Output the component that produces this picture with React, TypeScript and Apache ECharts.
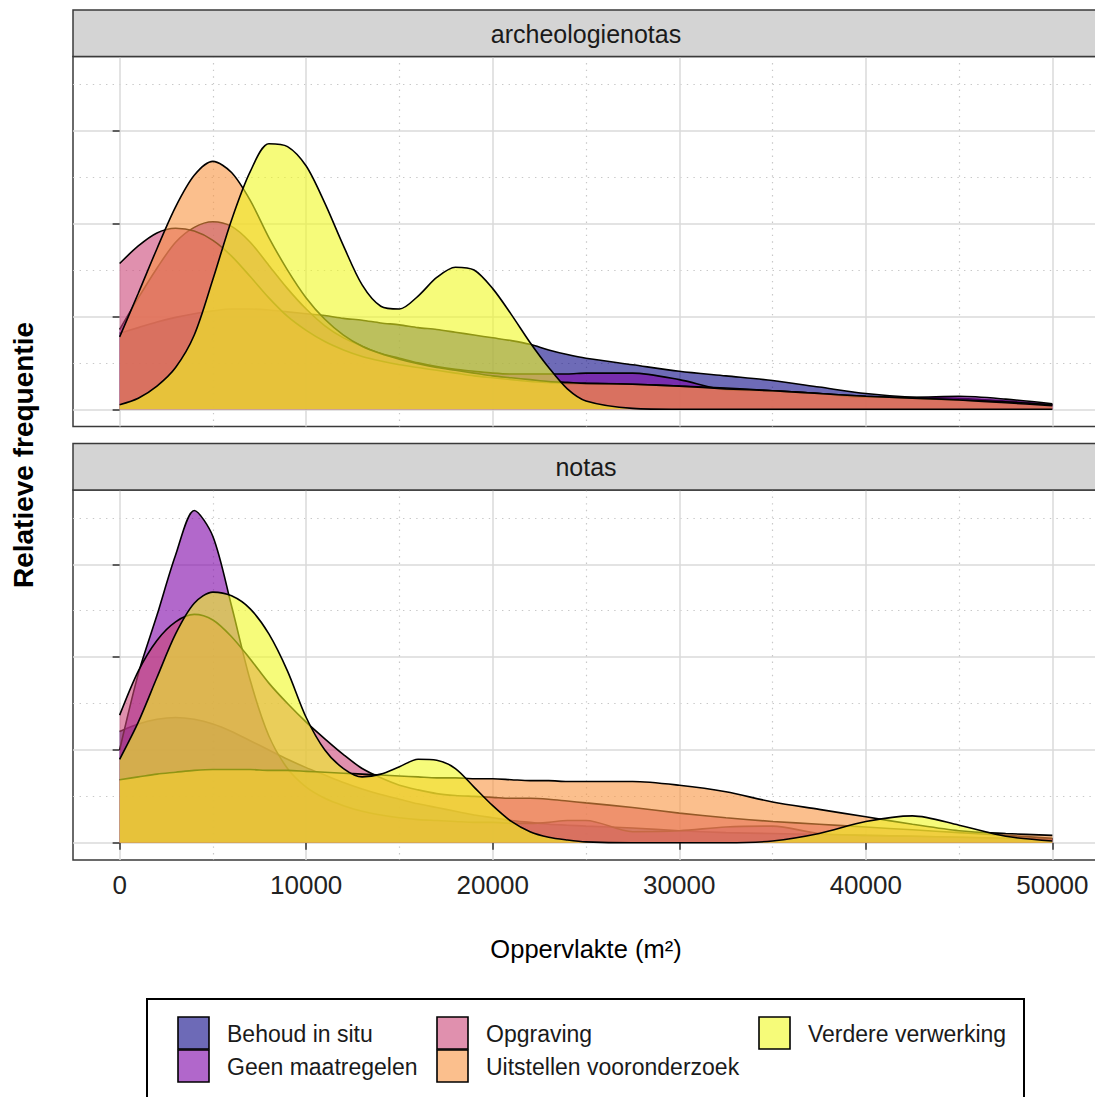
import React, { useEffect, useRef } from "react";
import * as echarts from "echarts";

// ---------- data ----------
const AREA_X = [
  0, 1000, 2000, 3000, 4000, 5000, 6000, 7000, 8000, 9000,
  10000, 11000, 12000, 13000, 14000, 15000, 16000, 17000, 18000, 19000,
  20000, 21000, 22000, 23000, 24000, 25000,
  27500, 30000, 32500, 35000, 37500, 40000, 42500, 45000, 47500, 50000,
];
const X_TICKS = [0, 10000, 20000, 30000, 40000, 50000];
const X_MINOR = [5000, 15000, 25000, 35000, 45000];
const Y_TICKS = [0, 1, 2, 3];
const Y_MINOR = [0.5, 1.5, 2.5, 3.5];
const PANELS = ["archeologienotas", "notas"];
const CATEGORIES = [
  "Behoud in situ",
  "Geen maatregelen",
  "Opgraving",
  "Uitstellen vooronderzoek",
  "Verdere verwerking",
];
const COLORS = ["#0D0887", "#7E03A8", "#CC4678", "#F89441", "#F0F921"];

// panel "archeologienotas"
const archBehoud = [
  0.82, 0.88, 0.94, 0.99, 1.03, 1.06, 1.08, 1.08, 1.07, 1.05,
  1.03, 1.01, 0.98, 0.96, 0.93, 0.91, 0.88, 0.86, 0.83, 0.8,
  0.77, 0.74, 0.7, 0.64, 0.59, 0.55,
  0.48, 0.41, 0.36, 0.31, 0.24, 0.17, 0.13, 0.12, 0.09, 0.05,
];
const archGeen = [
  0.86, 1.2, 1.52, 1.8, 1.96, 2.02, 1.97, 1.8, 1.55, 1.3,
  1.08, 0.9, 0.77, 0.68, 0.6, 0.55, 0.5, 0.46, 0.43, 0.41,
  0.39, 0.38, 0.38, 0.38, 0.38, 0.39,
  0.39, 0.32, 0.21, 0.2, 0.17, 0.13, 0.13, 0.14, 0.11, 0.06,
];
const archOpgraving = [
  1.57, 1.76, 1.9, 1.95, 1.92, 1.82, 1.65, 1.43, 1.2, 1.0,
  0.85, 0.73, 0.64, 0.57, 0.52, 0.48, 0.45, 0.42, 0.39, 0.36,
  0.34, 0.32, 0.3, 0.29, 0.28, 0.28,
  0.27, 0.25, 0.23, 0.2, 0.17, 0.14, 0.12, 0.1, 0.08, 0.05,
];
const archUitstellen = [
  0.78, 1.25, 1.73, 2.18, 2.52, 2.67, 2.55, 2.25, 1.85, 1.5,
  1.2, 0.97, 0.8, 0.68, 0.6, 0.54, 0.49, 0.45, 0.42, 0.39,
  0.36, 0.34, 0.32, 0.3, 0.29, 0.28,
  0.27, 0.25, 0.22, 0.2, 0.17, 0.14, 0.12, 0.1, 0.07, 0.04,
];
const archVerdere = [
  0.05, 0.12, 0.25, 0.45, 0.8, 1.4, 2.04, 2.56, 2.86, 2.83,
  2.62, 2.22, 1.76, 1.34, 1.11, 1.08, 1.22, 1.42, 1.53, 1.5,
  1.3, 1.02, 0.72, 0.45, 0.22, 0.09,
  0.01, 0, 0, 0, 0, 0, 0, 0, 0, 0,
];

// panel "notas"
const notasBehoud = [
  1.2, 1.28, 1.33, 1.35, 1.33, 1.28, 1.2, 1.1, 1.0, 0.9,
  0.81, 0.73, 0.65, 0.58, 0.52, 0.47, 0.42, 0.38, 0.34, 0.3,
  0.27, 0.24, 0.22, 0.2, 0.19, 0.18,
  0.16, 0.13, 0.11, 0.1, 0.09, 0.08, 0.07, 0.06, 0.05, 0.04,
];
const notasGeen = [
  1.0, 1.82, 2.45, 3.1, 3.58, 3.3, 2.55, 1.75, 1.15, 0.8,
  0.6, 0.48, 0.4, 0.34, 0.3, 0.27, 0.25, 0.24, 0.23, 0.22,
  0.22, 0.21, 0.21, 0.22, 0.24, 0.24,
  0.12, 0.13, 0.17, 0.18, 0.1, 0.08, 0.07, 0.06, 0.05, 0.04,
];
const notasOpgraving = [
  1.375, 1.85, 2.18, 2.38, 2.46, 2.4, 2.22, 1.98, 1.72, 1.5,
  1.3, 1.12, 0.95, 0.8, 0.7, 0.62, 0.57, 0.53, 0.51, 0.5,
  0.49, 0.48, 0.48, 0.47, 0.45, 0.43,
  0.38, 0.32, 0.27, 0.23, 0.2, 0.17, 0.14, 0.11, 0.08, 0.05,
];
const notasUitstellen = [
  0.68, 0.71, 0.74, 0.76, 0.78, 0.79, 0.79, 0.79, 0.78, 0.78,
  0.77, 0.76, 0.75, 0.74, 0.73, 0.72, 0.71, 0.7, 0.7, 0.69,
  0.69, 0.68, 0.67, 0.67, 0.66, 0.66,
  0.66, 0.62, 0.55, 0.44, 0.36, 0.28, 0.2, 0.13, 0.1, 0.08,
];
const notasVerdere = [
  0.9, 1.3, 1.78, 2.25, 2.58, 2.7, 2.66, 2.52, 2.25, 1.85,
  1.35, 1.0, 0.8, 0.71, 0.74, 0.82, 0.9, 0.89, 0.8, 0.6,
  0.4, 0.23, 0.12, 0.06, 0.03, 0.01,
  0, 0, 0, 0.02, 0.1, 0.23, 0.29, 0.19, 0.07, 0.02,
];

const PANEL_DATA = [
  [archBehoud, archGeen, archOpgraving, archUitstellen, archVerdere],
  [notasBehoud, notasGeen, notasOpgraving, notasUitstellen, notasVerdere],
];

// ---------- styling / layout ----------
const FONT = "'Liberation Sans', Arial, Helvetica, sans-serif";
const CHART_W = 1102; // drawing surface is a bit wider than the page; the page clips it
const GRID_LEFT = 73;
const GRID_WIDTH = 1026;
const GRID_TOPS = [56.5, 490];
const GRID_HEIGHT = 370;
const STRIP_H = 46.5;
const Y_MIN = -0.185;
const Y_MAX = 3.8;
const X_MIN = -2500;
const X_MAX = 52500;

function buildOption() {
  const grids = GRID_TOPS.map((top) => ({
    left: GRID_LEFT,
    top,
    width: GRID_WIDTH,
    height: GRID_HEIGHT,
    show: true,
    backgroundColor: "#ffffff",
    borderColor: "#3a3a3a",
    borderWidth: 1.5,
  }));

  const xAxes: any[] = [];
  const yAxes: any[] = [];
  GRID_TOPS.forEach((_, p) => {
    const isBottom = p === GRID_TOPS.length - 1;
    xAxes.push({
      type: "value",
      gridIndex: p,
      min: X_MIN,
      max: X_MAX,
      position: "bottom",
      axisLine: { show: false },
      axisTick: {
        show: isBottom,
        customValues: X_TICKS,
        length: 7,
        lineStyle: { color: "#333333", width: 1.5 },
      },
      axisLabel: {
        show: isBottom,
        customValues: X_TICKS,
        fontSize: 26,
        color: "#222222",
        fontFamily: FONT,
        margin: 12,
        formatter: (v: number) => String(v),
      },
      splitLine: { show: true, lineStyle: { color: "#DADADA", width: 1.5 } },
    });
    xAxes.push({
      type: "value",
      gridIndex: p,
      min: X_MIN,
      max: X_MAX,
      position: "top",
      axisLine: { show: false },
      axisTick: { show: false, customValues: X_MINOR },
      axisLabel: { show: false, customValues: X_MINOR },
      splitLine: {
        show: true,
        lineStyle: { color: "#C8C8C8", width: 1.2, type: [1.4, 5.2] },
      },
    });
    yAxes.push({
      type: "value",
      gridIndex: p,
      min: Y_MIN,
      max: Y_MAX,
      position: "left",
      axisLine: { show: false },
      axisTick: {
        show: true,
        customValues: Y_TICKS,
        length: 7,
        lineStyle: { color: "#333333", width: 1.5 },
      },
      axisLabel: { show: false, customValues: Y_TICKS },
      splitLine: { show: true, lineStyle: { color: "#DADADA", width: 1.5 } },
    });
    yAxes.push({
      type: "value",
      gridIndex: p,
      min: Y_MIN,
      max: Y_MAX,
      position: "right",
      axisLine: { show: false },
      axisTick: { show: false, customValues: Y_MINOR },
      axisLabel: { show: false, customValues: Y_MINOR },
      splitLine: {
        show: true,
        lineStyle: { color: "#C8C8C8", width: 1.2, type: [1.4, 5.2] },
      },
    });
  });

  const series: any[] = [];
  PANEL_DATA.forEach((group, p) => {
    group.forEach((vals, k) => {
      series.push({
        type: "line",
        name: CATEGORIES[k],
        xAxisIndex: p * 2,
        yAxisIndex: p * 2,
        data: AREA_X.map((x, i) => [x, vals[i]]),
        smooth: 0.3,
        symbol: "none",
        showSymbol: false,
        silent: true,
        z: 2 + k,
        lineStyle: { color: "#000000", width: 1.6 },
        areaStyle: { color: COLORS[k], opacity: 0.6 },
        itemStyle: { color: COLORS[k] },
      });
    });
  });

  const graphic: any[] = [];
  // facet strips
  PANELS.forEach((label, p) => {
    const stripTop = GRID_TOPS[p] - STRIP_H;
    graphic.push({
      type: "rect",
      shape: { x: GRID_LEFT, y: stripTop, width: GRID_WIDTH + 2, height: STRIP_H },
      style: { fill: "#D4D4D4", stroke: "#3a3a3a", lineWidth: 1.5 },
      z: 5,
    });
    graphic.push({
      type: "text",
      x: GRID_LEFT + GRID_WIDTH / 2,
      y: stripTop + STRIP_H / 2 + 0.5,
      style: {
        text: label,
        fontSize: 25,
        fontFamily: FONT,
        fill: "#1A1A1A",
        align: "center",
        verticalAlign: "middle",
      },
      z: 6,
    });
  });

  // axis titles
  graphic.push({
    type: "text",
    x: 23,
    y: 455,
    rotation: Math.PI / 2,
    style: {
      text: "Relatieve frequentie",
      fontSize: 28,
      fontWeight: "bold",
      fontFamily: FONT,
      fill: "#000000",
      align: "center",
      verticalAlign: "middle",
    },
  });
  graphic.push({
    type: "text",
    x: GRID_LEFT + GRID_WIDTH / 2,
    y: 949,
    style: {
      text: "Oppervlakte (m²)",
      fontSize: 25.5,
      fontFamily: FONT,
      fill: "#000000",
      align: "center",
      verticalAlign: "middle",
    },
  });

  // legend
  const legendBox = { x: 147, y: 999, width: 877, height: 130 };
  graphic.push({
    type: "rect",
    shape: legendBox,
    style: { fill: "#ffffff", stroke: "#000000", lineWidth: 2 },
    z: 1,
  });
  const colX = [178, 437, 759];
  const rowY = [1017, 1050];
  CATEGORIES.forEach((name, k) => {
    const col = Math.floor(k / 2);
    const row = k % 2;
    graphic.push({
      type: "rect",
      shape: { x: colX[col], y: rowY[row], width: 31, height: 32 },
      style: { fill: COLORS[k], stroke: "none" },
      z: 2,
    });
    graphic.push({
      type: "rect",
      shape: { x: colX[col], y: rowY[row], width: 31, height: 32 },
      style: { fill: "#ffffff", opacity: 0.4, stroke: "none" },
      z: 3,
    });
    graphic.push({
      type: "rect",
      shape: { x: colX[col], y: rowY[row], width: 31, height: 32 },
      style: { fill: "none", stroke: "#000000", lineWidth: 1.6 },
      z: 4,
    });
    graphic.push({
      type: "text",
      x: colX[col] + 49,
      y: rowY[row] + 16.5,
      style: {
        text: name,
        fontSize: 23,
        fontFamily: FONT,
        fill: "#1A1A1A",
        align: "left",
        verticalAlign: "middle",
      },
      z: 4,
    });
  });

  return {
    animation: false,
    backgroundColor: "#ffffff",
    textStyle: { fontFamily: FONT },
    grid: grids,
    xAxis: xAxes,
    yAxis: yAxes,
    series,
    graphic,
  };
}

export default function App() {
  const ref = useRef<HTMLDivElement>(null);
  useEffect(() => {
    if (!ref.current) return;
    const chart = echarts.init(ref.current, undefined, { renderer: "svg" });
    chart.setOption(buildOption() as any);
    return () => chart.dispose();
  }, []);
  return (
    <div
      style={{
        position: "absolute",
        left: 0,
        top: 0,
        width: 1095,
        height: 1097,
        overflow: "hidden",
        background: "#ffffff",
      }}
    >
      <div ref={ref} style={{ width: CHART_W, height: 1097 }} />
    </div>
  );
}
